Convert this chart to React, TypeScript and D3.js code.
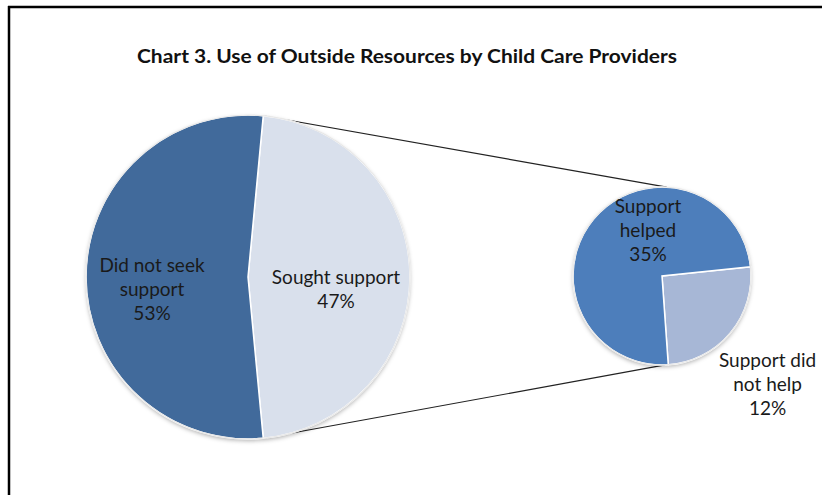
import React from "react";
import * as d3 from "d3";

const mainCategories = ["Sought support", "Did not seek support"];
const mainValues = [47, 53];
const mainLabelLines = [["Sought support", "47%"], ["Did not seek", "support", "53%"]];

const subCategories = ["Support did not help", "Support helped"];
const subValues = [12, 35];
const subLabelLines = [["Support did", "not help", "12%"], ["Support", "helped", "35%"]];

const title = "Chart 3. Use of Outside Resources by Child Care Providers";

const W = 822, H = 495;
const mainC = { x: 248, y: 277, r: 162 };
const subC = { x: 662, y: 276, r: 89 };
const mainColors = ["#D9E0EC", "#416A9B"];
const subColors = ["#A7B7D6", "#4D7EBB"];
const FONT = "Lato, 'Open Sans', sans-serif";
const LH = 24;

function pt(c: { x: number; y: number }, r: number, a: number) {
  return [c.x + r * Math.sin(a), c.y - r * Math.cos(a)];
}

export default function App() {
  const deg = Math.PI / 180;
  const mainSpan = (mainValues[0] / d3.sum(mainValues)) * 2 * Math.PI;
  const mainStart = Math.PI / 2 - mainSpan / 2;
  const mainArcs = d3.pie<number>().sort(null).startAngle(mainStart).endAngle(mainStart + 2 * Math.PI)(mainValues);

  const subSpan = (subValues[0] / d3.sum(subValues)) * 2 * Math.PI;
  const subStart = 130 * deg - subSpan / 2;
  const subArcs = d3.pie<number>().sort(null).startAngle(subStart).endAngle(subStart + 2 * Math.PI)(subValues);

  const mainArc = d3.arc<any>().innerRadius(0).outerRadius(mainC.r);
  const subArc = d3.arc<any>().innerRadius(0).outerRadius(subC.r);

  const topA = mainArcs[0].startAngle;
  const botA = mainArcs[0].endAngle;
  const l1a = pt(mainC, mainC.r, topA);
  const l1b = pt(subC, subC.r, 3 * deg);
  const l2a = pt(mainC, mainC.r, botA);
  const l2b = pt(subC, subC.r, 178 * deg);

  const renderLabel = (lines: string[], x: number, y: number, key: string) => {
    const first = y - ((lines.length - 1) * LH) / 2 + 6;
    return (
      <text key={key} x={x} textAnchor="middle" fontFamily={FONT} fontSize={19} fill="#1a1a1a">
        {lines.map((l, i) => (
          <tspan key={i} x={x} y={first + i * LH}>{l}</tspan>
        ))}
      </text>
    );
  };

  const mainLabelPos = mainArcs.map((a) => {
    const mid = (a.startAngle + a.endAngle) / 2;
    const p = pt(mainC, 92, mid);
    return [p[0] - 4, p[1] + 13];
  });
  const subMid0 = (subArcs[0].startAngle + subArcs[0].endAngle) / 2;
  const sp0 = pt(subC, 152, subMid0 + 6 * deg);
  const subLabelPos = [[sp0[0], sp0[1]], [subC.x - 14, subC.y - 45]];

  return (
    <svg width={W} height={H} style={{ position: "absolute", left: 0, top: 0, background: "#fff" }}>
      <defs>
        <filter id="sh" x="-20%" y="-20%" width="140%" height="140%">
          <feDropShadow dx="0" dy="2" stdDeviation="2.2" floodColor="#000" floodOpacity="0.3" />
        </filter>
      </defs>
      <rect x={0} y={0} width={W} height={H} fill="#fff" />
      <line x1={8} y1={7} x2={W} y2={7} stroke="#000" strokeWidth={2.5} />
      <line x1={9} y1={6} x2={9} y2={H} stroke="#000" strokeWidth={2.5} />
      <text x={407} y={63} textAnchor="middle" fontFamily={FONT} fontWeight="bold" fontSize={19} textLength={540} lengthAdjust="spacingAndGlyphs" fill="#111">
        {title}
      </text>

      <line x1={l1a[0]} y1={l1a[1]} x2={l1b[0]} y2={l1b[1]} stroke="#222" strokeWidth={1.2} />
      <line x1={l2a[0]} y1={l2a[1]} x2={l2b[0]} y2={l2b[1]} stroke="#222" strokeWidth={1.2} />

      <g transform={`translate(${mainC.x},${mainC.y})`}>
        <circle r={mainC.r} fill="#fff" filter="url(#sh)" />
        {mainArcs.map((a, i) => (
          <path key={mainCategories[i]} d={mainArc(a) as string} fill={mainColors[i]} stroke="#fff" strokeWidth={1.5} />
        ))}
        <circle r={mainC.r} fill="none" stroke="#e8e8e8" strokeWidth={1.2} />
      </g>
      <g transform={`translate(${subC.x},${subC.y})`}>
        <circle r={subC.r} fill="#fff" filter="url(#sh)" />
        {subArcs.map((a, i) => (
          <path key={subCategories[i]} d={subArc(a) as string} fill={subColors[i]} stroke="#fff" strokeWidth={1.5} />
        ))}
        <circle r={subC.r} fill="none" stroke="#e8e8e8" strokeWidth={1.2} />
      </g>

      {mainLabelLines.map((lines, i) => renderLabel(lines, mainLabelPos[i][0], mainLabelPos[i][1], "m" + i))}
      {subLabelLines.map((lines, i) => renderLabel(lines, subLabelPos[i][0], subLabelPos[i][1], "s" + i))}
    </svg>
  );
}
